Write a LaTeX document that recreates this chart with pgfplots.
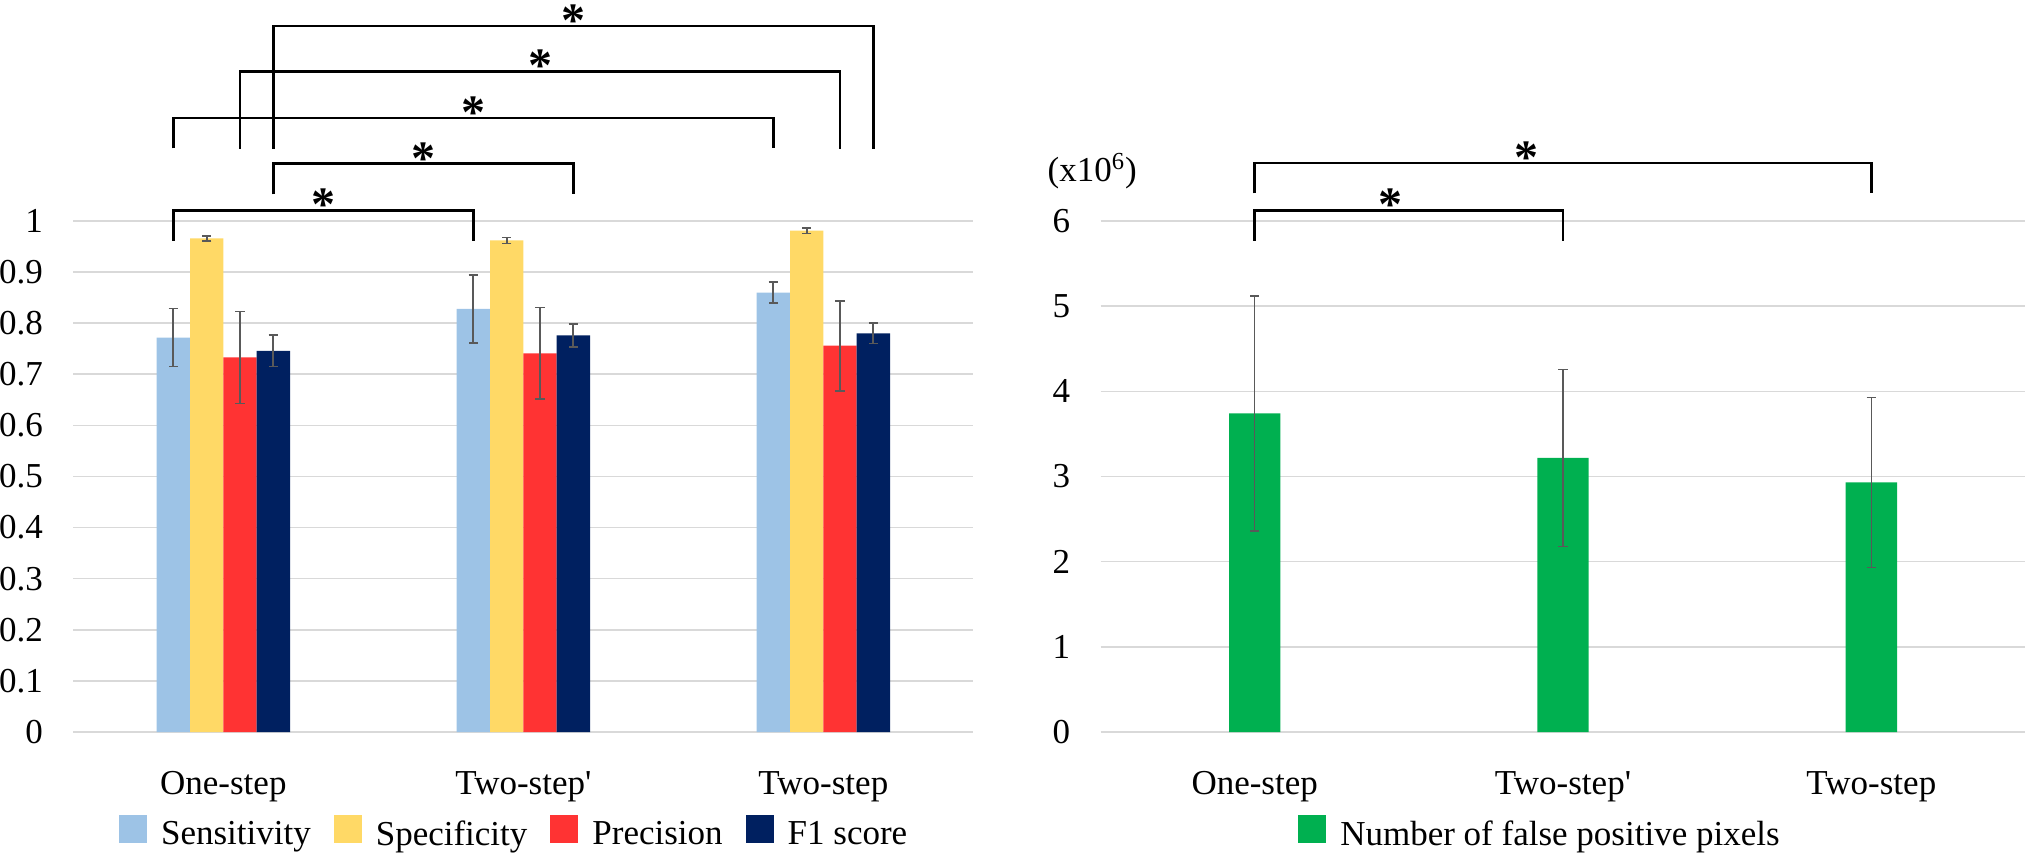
\documentclass[border=0pt]{standalone}
\usepackage{fontspec}
\setmainfont{Liberation Serif}
\usepackage{pgfplots}
\usepackage{pgfplotstable}
\pgfplotsset{compat=1.18}

\definecolor{csens}{HTML}{9DC3E6}
\definecolor{cspec}{HTML}{FFD966}
\definecolor{cprec}{HTML}{FF3333}
\definecolor{cfone}{HTML}{002060}
\definecolor{cgreen}{HTML}{00B050}
\definecolor{cgrid}{HTML}{D9D9D9}
\definecolor{cerr}{HTML}{595959}

\newcommand{\fs}{\fontsize{17.5}{21}\selectfont}
\newcommand{\fstar}{\fontsize{24}{24}\selectfont\bfseries}

\pgfplotstableread{
x sens sensE spec specE prec precE fone foneE
0 0.772 0.057 0.966 0.005 0.733 0.090 0.746 0.031
1 0.828 0.067 0.962 0.006 0.741 0.090 0.776 0.023
2 0.860 0.020 0.981 0.0055 0.756 0.088 0.780 0.020
}\tabL

\pgfplotstableread{
x fp fpE
0 3.74 1.38
1 3.22 1.04
2 2.93 1.00
}\tabR

\tikzset{
  bracket/.style={draw=black, line width=1.3pt},
  sig/.style={font=\fstar, anchor=base, inner sep=0pt, yshift=-5.2pt},
}

\pgfplotsset{
  mystyle/.style={
    scale only axis,
    axis line style={draw=none},
    tick style={draw=none},
    ymajorgrids,
    major grid style={draw=cgrid, line width=0.8pt},
    enlargelimits=false,
    xmin=-0.5, xmax=2.5,
    xtick={0,1,2},
    xticklabels={One-step, Two-step\textquotesingle, Two-step},
    ticklabel style={font=\fs},
    /pgf/number format/assume math mode=true,
    yticklabel style={anchor=east, inner sep=0pt, xshift=-15pt},
    xticklabel style={anchor=base, inner sep=0pt, yshift=-27pt},
    clip=false,
    legend style={draw=none, fill=none, inner sep=0pt, outer sep=0pt, font=\fs,
      legend cell align=left, nodes={inner sep=0pt},
      /tikz/every even column/.append style={column sep=11.5pt},
      /tikz/every odd column/.append style={column sep=7pt}},
  },
  sqlegend/.style={legend image code/.code={\fill[##1] (0pt,-4pt) rectangle (14pt,10pt);}},
  errstyle/.style={
    error bars/.cd, y dir=both, y explicit,
    error bar style={draw=cerr, line width=#1},
    error mark options={draw=cerr, line width=#1, mark size=2.3pt, rotate=90},
  },
}

\begin{document}
\begin{tikzpicture}
\useasboundingbox (0,0) rectangle (1012.5pt,426pt);

\begin{axis}[mystyle, at={(36.67pt,60pt)}, anchor=south west,
  width=450pt, height=255.5pt,
  ybar=0pt, bar width=16.667pt, sqlegend,
  ymin=0, ymax=1,
  ytick={0,0.1,0.2,0.3,0.4,0.5,0.6,0.7,0.8,0.9,1},
  yticklabels={0,0.1,0.2,0.3,0.4,0.5,0.6,0.7,0.8,0.9,1},
  legend columns=4,
  legend style={at={(0.0508,-0.1947)}, anchor=west}]
\addplot[fill=csens, draw=none, sqlegend, errstyle=0.85pt] table[x=x, y=sens, y error=sensE] {\tabL};
\addlegendentry{Sensitivity}
\addplot[fill=cspec, draw=none, sqlegend, errstyle=0.85pt] table[x=x, y=spec, y error=specE] {\tabL};
\addlegendentry{Specificity}
\addplot[fill=cprec, draw=none, sqlegend, errstyle=0.85pt] table[x=x, y=prec, y error=precE] {\tabL};
\addlegendentry{Precision}
\addplot[fill=cfone, draw=none, sqlegend, errstyle=0.85pt] table[x=x, y=fone, y error=foneE] {\tabL};
\addlegendentry{F1 score}

% significance brackets
\draw[bracket] (axis cs:-0.1667,0.9614) -- (axis cs:-0.1667,1.0209) -- (axis cs:0.8333,1.0209) -- (axis cs:0.8333,0.9614);
\node[sig] at (axis cs:0.3333,1.0209) {*};
\draw[bracket] (axis cs:0.1667,1.0523) -- (axis cs:0.1667,1.1121) -- (axis cs:1.1667,1.1121) -- (axis cs:1.1667,1.0523);
\node[sig] at (axis cs:0.6667,1.1121) {*};
\draw[bracket] (axis cs:-0.1667,1.1423) -- (axis cs:-0.1667,1.2016) -- (axis cs:1.8333,1.2016) -- (axis cs:1.8333,1.1423);
\node[sig] at (axis cs:0.8333,1.2016) {*};
\draw[bracket] (axis cs:0.0556,1.1409) -- (axis cs:0.0556,1.2930) -- (axis cs:2.0556,1.2930) -- (axis cs:2.0556,1.1409);
\node[sig] at (axis cs:1.0556,1.2930) {*};
\draw[bracket] (axis cs:0.1667,1.1409) -- (axis cs:0.1667,1.3816) -- (axis cs:2.1667,1.3816) -- (axis cs:2.1667,1.1409);
\node[sig] at (axis cs:1.1667,1.3816) {*};
\end{axis}

\begin{axis}[mystyle, at={(550.25pt,60pt)}, anchor=south west,
  width=462.5pt, height=255.5pt,
  ybar, bar width=25.67pt, sqlegend,
  ymin=0, ymax=6, ytick={0,1,2,3,4,5,6},
  legend style={at={(0.2138,-0.1947)}, anchor=west}]
\addplot[fill=cgreen, draw=none, sqlegend, errstyle=0.55pt] table[x=x, y=fp, y error=fpE] {\tabR};
\addlegendentry{Number of false positive pixels}

\draw[bracket] (axis cs:0,5.768) -- (axis cs:0,6.125) -- (axis cs:1,6.125) -- (axis cs:1,5.768);
\node[sig] at (axis cs:0.441,6.125) {*};
\draw[bracket] (axis cs:0,6.325) -- (axis cs:0,6.681) -- (axis cs:2,6.681) -- (axis cs:2,6.325);
\node[sig] at (axis cs:0.882,6.681) {*};
\end{axis}

\node[anchor=base west, font=\fs, inner sep=0pt] at (523.65pt,335.15pt) {(x10\textsuperscript{6})};
\end{tikzpicture}
\end{document}
